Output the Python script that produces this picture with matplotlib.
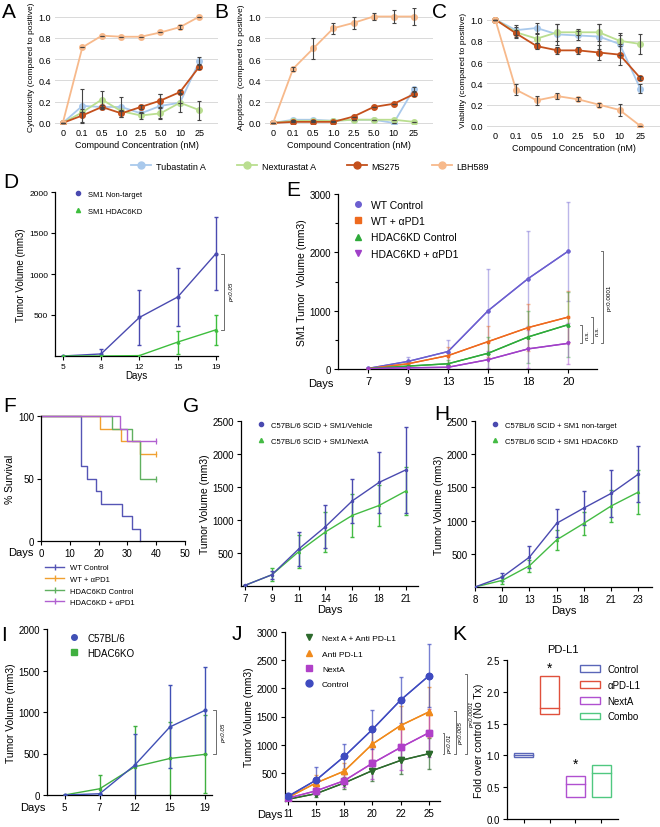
import matplotlib
matplotlib.use("Agg")
import matplotlib.pyplot as plt
from matplotlib.lines import Line2D
from matplotlib.patches import Rectangle
import numpy as np

plt.rcParams['font.family'] = ['Liberation Sans', 'DejaVu Sans']

# ---------------- data ----------------
conc_labels = ['0', '0.1', '0.5', '1.0', '2.5', '5.0', '10', '25']
drugs = ['Tubastatin A', 'Nexturastat A', 'MS275', 'LBH589']
drug_colors = ['#a9c9ec', '#bade90', '#c4501c', '#f7b98b']

cyto_tub = [0, 0.16, 0.15, 0.15, 0.09, 0.16, 0.19, 0.58]
cyto_nex = [0, 0.10, 0.22, 0.11, 0.07, 0.09, 0.19, 0.12]
cyto_ms = [0, 0.07, 0.15, 0.09, 0.15, 0.21, 0.29, 0.53]
cyto_lbh = [0, 0.71, 0.82, 0.81, 0.81, 0.85, 0.90, 1.0]
cyto_tub_err = [0, 0.16, 0, 0.09, 0, 0.11, 0, 0.04]
cyto_nex_err = [0, 0, 0.08, 0, 0.03, 0.05, 0.09, 0.09]
cyto_ms_err = [0, 0.06, 0.02, 0.03, 0.02, 0.06, 0.02, 0.02]
cyto_lbh_err = [0, 0, 0, 0, 0, 0, 0.02, 0]

apo_tub = [0, 0.03, 0.03, 0.02, 0.03, 0.03, 0.0, 0.32]
apo_nex = [0, 0.02, 0.02, 0.02, 0.03, 0.03, 0.03, 0.01]
apo_ms = [0, 0.01, 0.01, 0.01, 0.06, 0.15, 0.18, 0.27]
apo_lbh = [0, 0.51, 0.70, 0.89, 0.94, 1.0, 1.0, 1.0]
apo_tub_err = [0, 0, 0, 0, 0, 0, 0, 0.02]
apo_nex_err = [0, 0, 0, 0, 0, 0, 0, 0]
apo_ms_err = [0, 0, 0, 0, 0, 0, 0, 0.02]
apo_lbh_err = [0, 0.02, 0.10, 0.05, 0.06, 0.03, 0.06, 0.08]

via_tub = [1.0, 0.90, 0.92, 0.86, 0.85, 0.84, 0.77, 0.35]
via_nex = [1.0, 0.88, 0.82, 0.88, 0.88, 0.88, 0.80, 0.77]
via_ms = [1.0, 0.87, 0.75, 0.71, 0.71, 0.69, 0.67, 0.45]
via_lbh = [1.0, 0.34, 0.24, 0.28, 0.25, 0.20, 0.15, 0.0]
via_tub_err = [0, 0.05, 0.05, 0.10, 0.04, 0.12, 0.10, 0.04]
via_nex_err = [0, 0.05, 0.04, 0.08, 0.03, 0.08, 0.05, 0.09]
via_ms_err = [0, 0.03, 0.03, 0.03, 0.03, 0.07, 0.10, 0.02]
via_lbh_err = [0, 0.05, 0.04, 0.03, 0.02, 0.02, 0.06, 0.0]

d_days = ['5', '8', '12', '15', '19']
d_nt = [0, 25, 470, 720, 1250]
d_nt_err = [0, 60, 340, 350, 450]
d_kd = [0, 0, 5, 170, 320]
d_kd_err = [0, 0, 0, 140, 180]

e_days = ['7', '9', '13', '15', '18', '20']
e_wt = [10, 130, 300, 1000, 1550, 2020]
e_wt_err = [10, 80, 200, 720, 820, 850]
e_wtpd1 = [5, 90, 230, 470, 710, 890]
e_wtpd1_err = [5, 40, 150, 270, 400, 440]
e_kd = [5, 50, 90, 270, 550, 760]
e_kd_err = [5, 30, 60, 280, 450, 560]
e_kdpd1 = [5, 20, 30, 160, 345, 440]
e_kdpd1_err = [5, 10, 20, 150, 320, 350]

f_wt_t = [0, 14, 16, 19, 21, 28, 31.5, 34.5]
f_wt_s = [100, 60, 50, 40, 30, 20, 10, 0]
f_wtpd1_t = [0, 20.5, 27.7, 34.5, 40]
f_wtpd1_s = [100, 90, 80, 70, 70]
f_kd_t = [0, 24.7, 31.5, 34.5, 40]
f_kd_s = [100, 90, 80, 50, 50]
f_kdpd1_t = [0, 27.4, 29.8, 40]
f_kdpd1_s = [100, 90, 80, 80]

g_days = ['7', '9', '11', '14', '16', '18', '21']
g_veh = [10, 170, 560, 900, 1290, 1570, 1760]
g_veh_err = [0, 60, 260, 330, 330, 460, 650]
g_nexta = [10, 170, 520, 820, 1070, 1220, 1440]
g_nexta_err = [0, 100, 250, 300, 330, 310, 370]

h_days = ['8', '10', '13', '15', '18', '21', '23']
h_nt = [0, 150, 450, 960, 1190, 1410, 1700]
h_nt_err = [0, 60, 160, 210, 250, 350, 420]
h_kd = [0, 100, 320, 710, 960, 1220, 1430]
h_kd_err = [0, 60, 90, 150, 170, 240, 330]

i_days = ['5', '7', '12', '15', '19']
i_c57 = [0, 15, 360, 820, 1020]
i_c57_err = [0, 0, 370, 500, 520]
i_ko = [0, 75, 340, 440, 490]
i_ko_err = [0, 170, 490, 440, 470]

j_days = ['11', '15', '18', '20', '22', '25']
j_ctrl = [80, 370, 790, 1270, 1790, 2220]
j_ctrl_err = [60, 230, 220, 340, 410, 560]
j_apdl1 = [60, 320, 530, 1010, 1340, 1580]
j_apdl1_err = [40, 140, 150, 330, 350, 450]
j_nexta = [50, 180, 360, 670, 950, 1210]
j_nexta_err = [30, 60, 120, 280, 400, 430]
j_combo = [30, 130, 320, 540, 720, 840]
j_combo_err = [20, 60, 100, 190, 240, 280]

k_groups = ['Control', '\u03b1PD-L1', 'NextA', 'Combo']
k_low = [0.98, 1.65, 0.35, 0.35]
k_high = [1.03, 2.25, 0.67, 0.85]
k_mid = [1.01, 1.75, 0.55, 0.72]
k_colors = ['#5a66b8', '#e0503c', '#b050d0', '#50c880']

# ---------------- layout helpers ----------------
W, H = 660, 828
fig = plt.figure(figsize=(W / 100, H / 100), dpi=100)


def ax_px(l, t, r, b):
    return fig.add_axes([l / W, 1 - b / H, (r - l) / W, (b - t) / H])


def letter(x, y, s):
    fig.text(x / W, 1 - y / H, s, fontsize=15, va='center', ha='left')


def excel_style(ax, ylabel, labels):
    for s in ax.spines.values():
        s.set_visible(False)
    ax.yaxis.grid(True, color='#d9d9d9', lw=0.7)
    ax.set_axisbelow(True)
    ax.tick_params(length=0, labelsize=6.5, pad=3)
    ax.set_xticks(range(len(labels)))
    ax.set_xticklabels(labels)
    ax.set_ylim(-0.01, 1.08)
    ax.set_yticks(np.arange(0, 1.01, 0.2))
    ax.set_yticklabels(['%.1f' % v for v in np.arange(0, 1.01, 0.2)])
    ax.set_xlabel('Compound Concentration (nM)', fontsize=6.5, labelpad=2)
    ax.set_ylabel(ylabel, fontsize=6, labelpad=2)


def gp_style(ax, labelsize=6):
    ax.spines['top'].set_visible(False)
    ax.spines['right'].set_visible(False)
    ax.spines['left'].set_linewidth(0.9)
    ax.spines['bottom'].set_linewidth(0.9)
    ax.tick_params(direction='out', length=3, width=0.8, labelsize=labelsize, pad=2)


def series(ax, x, y, e, color, marker, ms=3, lw=1.0, ecolor=None, alpha=1.0):
    ax.errorbar(x, y, yerr=e, color=ecolor or color, lw=0, elinewidth=1.0,
                capsize=1.5, capthick=1.0, alpha=alpha, zorder=2)
    ax.plot(x, y, color=color, lw=lw, marker=marker, ms=ms, zorder=3)


def bracket(ax, x, y0, y1, text, dx=0.08, tx=0.15, fs=4.5, style='italic'):
    ax.plot([x - dx, x, x, x - dx], [y0, y0, y1, y1], color='#555555', lw=0.6,
            clip_on=False)
    ax.text(x + tx, (y0 + y1) / 2, text, rotation=90, fontsize=fs,
            style=style, ha='center', va='center', clip_on=False)


# ---------------- A, B, C ----------------
x8 = np.arange(8)
panels = [
    (55, 9, 218, 125, 'Cytotoxicity (compared to positive)',
     [cyto_tub, cyto_nex, cyto_ms, cyto_lbh],
     [cyto_tub_err, cyto_nex_err, cyto_ms_err, cyto_lbh_err], 'A', 0),
    (265, 9, 433, 125, 'Apoptosis  (compared to positive)',
     [apo_tub, apo_nex, apo_ms, apo_lbh],
     [apo_tub_err, apo_nex_err, apo_ms_err, apo_lbh_err], 'B', 212),
    (487, 12, 660, 128, 'Viability (compared to positive)',
     [via_tub, via_nex, via_ms, via_lbh],
     [via_tub_err, via_nex_err, via_ms_err, via_lbh_err], 'C', 430),
]
for l, t, r, b, ylab, ys, es, lab, lx in panels:
    ax = ax_px(l, t, r, b)
    excel_style(ax, ylab, conc_labels)
    ax.set_xlim(-0.4, 7.95)
    for y, e, c in zip(ys, es, drug_colors):
        ax.plot(x8, y, color=c, lw=1.3, marker='o', ms=4, zorder=3)
    for y, e in zip(ys, es):
        ax.errorbar(x8, y, yerr=e, fmt='none', ecolor='#444444', elinewidth=0.8,
                    capsize=1.5, capthick=0.8, zorder=4)
    letter(lx + 2, 12, lab)

handles = [Line2D([], [], color=c, marker='o', ms=5, lw=1.3) for c in drug_colors]
fig.legend(handles, drugs, loc='center', bbox_to_anchor=(310 / W, 1 - 167 / H),
           ncol=4, frameon=False, fontsize=6.5, handlelength=2.2,
           columnspacing=3.5, handletextpad=0.5)

# ---------------- D ----------------
ax = ax_px(55, 193, 218, 357)
gp_style(ax)
xd = np.arange(len(d_days))
series(ax, xd, d_nt, d_nt_err, '#4a4ab0', 'o', ms=2)
series(ax, xd, d_kd, d_kd_err, '#3dbe3d', '^', ms=2)
ax.set_xlim(-0.2, 4.05)
ax.set_ylim(0, 2000)
ax.set_yticks([500, 1000, 1500, 2000])
ax.set_xticks(xd)
ax.set_xticklabels(d_days)
ax.set_xlabel('Days', fontsize=7, labelpad=0)
ax.set_ylabel('Tumor Volume (mm3)', fontsize=7, labelpad=2)
ax.legend([Line2D([], [], color='#4a4ab0', marker='o', ms=3, lw=0),
           Line2D([], [], color='#3dbe3d', marker='^', ms=3, lw=0)],
          ['SM1 Non-target', 'SM1 HDAC6KD'], loc='upper left',
          bbox_to_anchor=(0.05, 1.05), frameon=False, fontsize=5.5,
          labelspacing=1.2, handletextpad=0.3)
bracket(ax, 4.2, 320, 1250, 'p<0.05', tx=0.2)
letter(3, 183, 'D')

# ---------------- E ----------------
ax = ax_px(338, 195, 597, 370)
gp_style(ax, 7)
xe = np.arange(len(e_days))
e_cols = ['#6c5fd0', '#ee6a1e', '#2eaa3a', '#a040c8']
e_marks = ['o', 's', '^', 'v']
for y, e, c, m in zip([e_wt, e_wtpd1, e_kd, e_kdpd1],
                      [e_wt_err, e_wtpd1_err, e_kd_err, e_kdpd1_err], e_cols, e_marks):
    series(ax, xe, y, e, c, m, ms=2, ecolor=c, alpha=0.45)
    ax.plot(xe, y, color=c, lw=1.0, marker=m, ms=2, zorder=3)
ax.set_xlim(-0.75, 5.72)
ax.set_ylim(0, 3000)
ax.set_yticks([0, 1000, 2000, 3000])
ax.set_yticks([500, 1500, 2500], minor=True)
ax.tick_params(which='minor', direction='out', length=2, width=0.8)
ax.set_xticks(xe)
ax.set_xticklabels(e_days, fontsize=8)
ax.text(-0.85, -160, 'Days', fontsize=8, ha='right', va='top')
ax.set_ylabel('SM1 Tumor  Volume (mm3)', fontsize=7.5, labelpad=2)
ax.legend([Line2D([], [], color=c, marker=m, ms=4, lw=0) for c, m in zip(e_cols, e_marks)],
          ['WT Control', 'WT + \u03b1PD1', 'HDAC6KD Control', 'HDAC6KD + \u03b1PD1'],
          loc='upper left', bbox_to_anchor=(0.0, 1.02), frameon=False, fontsize=7.5,
          labelspacing=0.6, handletextpad=0.3)
bracket(ax, 5.35, 440, 760, 'n.s.', dx=0.06, tx=0.12)
bracket(ax, 5.62, 440, 890, 'n.s.', dx=0.06, tx=0.12)
bracket(ax, 5.88, 440, 2030, 'p<0.0001', dx=0.06, tx=0.14, style='normal')
letter(286, 190, 'E')

# ---------------- F ----------------
ax = ax_px(41, 417, 185, 542)
gp_style(ax, 7)
f_cols = ['#5555b5', '#f0a030', '#60b060', '#b060d0']
f_names = ['WT Control', 'WT + \u03b1PD1', 'HDAC6KD Control', 'HDAC6KD + \u03b1PD1']
for t, s, c in zip([f_wt_t, f_wtpd1_t, f_kd_t, f_kdpd1_t],
                   [f_wt_s, f_wtpd1_s, f_kd_s, f_kdpd1_s], f_cols):
    ax.step(t, s, where='post', color=c, lw=1.0, clip_on=False)
    if s[-1] > 0:
        ax.plot([t[-1]], [s[-1]], marker='|', color=c, ms=4, mew=0.9)
ax.set_xlim(0, 50)
ax.set_ylim(0, 100)
ax.set_xticks(range(0, 51, 10))
ax.set_yticks([0, 50, 100])
ax.text(-2.5, -5, 'Days', fontsize=8, ha='right', va='top')
ax.set_ylabel('% Survival', fontsize=7.5, labelpad=2)
ax.legend([Line2D([], [], color=c, lw=1.0, marker='|', ms=4) for c in f_cols], f_names,
          loc='upper left', bbox_to_anchor=(-0.02, -0.13), frameon=False,
          fontsize=5.5, handlelength=2.5, labelspacing=0.55)
letter(3, 407, 'F')

# ---------------- G ----------------
ax = ax_px(241, 422, 418, 587)
gp_style(ax, 7)
xg = np.arange(len(g_days))
series(ax, xg, g_nexta, g_nexta_err, '#44bb44', '^', ms=1.5)
series(ax, xg, g_veh, g_veh_err, '#4a4ab0', 'o', ms=1.5)
ax.set_xlim(-0.15, 6.45)
ax.set_ylim(0, 2500)
ax.set_yticks([500, 1000, 1500, 2000, 2500])
ax.set_xticks(xg)
ax.set_xticklabels(g_days)
ax.set_xlabel('Days', fontsize=8, labelpad=1)
ax.set_ylabel('Tumor Volume (mm3)', fontsize=7.5, labelpad=2)
ax.legend([Line2D([], [], color='#4a4ab0', marker='o', ms=3, lw=0),
           Line2D([], [], color='#44bb44', marker='^', ms=3, lw=0)],
          ['C57BL/6 SCID + SM1/Vehicle', 'C57BL/6 SCID + SM1/NextA'], loc='upper left',
          bbox_to_anchor=(0.03, 1.04), frameon=False, fontsize=5.5,
          labelspacing=1.2, handletextpad=0.3)
letter(183, 407, 'G')

# ---------------- H ----------------
ax = ax_px(475, 422, 652, 588)
gp_style(ax, 7)
xh = np.arange(len(h_days))
series(ax, xh, h_kd, h_kd_err, '#44bb44', '^', ms=1.5)
series(ax, xh, h_nt, h_nt_err, '#4a4ab0', 'o', ms=1.5)
ax.set_xlim(0.0, 6.5)
ax.set_ylim(0, 2500)
ax.set_yticks([500, 1000, 1500, 2000, 2500])
ax.set_xticks(xh)
ax.set_xticklabels(h_days)
ax.set_xlabel('Days', fontsize=8, labelpad=1)
ax.set_ylabel('Tumor Volume (mm3)', fontsize=7.5, labelpad=2)
ax.legend([Line2D([], [], color='#4a4ab0', marker='o', ms=3, lw=0),
           Line2D([], [], color='#44bb44', marker='^', ms=3, lw=0)],
          ['C57BL/6 SCID + SM1 non-target', 'C57BL/6 SCID + SM1 HDAC6KD'], loc='upper left',
          bbox_to_anchor=(0.03, 1.04), frameon=False, fontsize=5.5,
          labelspacing=1.2, handletextpad=0.3)
letter(434, 415, 'H')

# ---------------- I ----------------
ax = ax_px(47, 630, 212, 796)
gp_style(ax, 7)
xi = np.arange(len(i_days))
series(ax, xi, i_ko, i_ko_err, '#40b040', 's', ms=2)
series(ax, xi, i_c57, i_c57_err, '#4050b5', 'o', ms=2)
ax.set_xlim(-0.5, 4.2)
ax.set_ylim(0, 2000)
ax.set_yticks([0, 500, 1000, 1500, 2000])
ax.set_xticks(xi)
ax.set_xticklabels(i_days)
ax.text(-0.55, -90, 'Days', fontsize=8, ha='right', va='top')
ax.set_ylabel('Tumor Volume (mm3)', fontsize=7.5, labelpad=2)
ax.legend([Line2D([], [], color='#4050b5', marker='o', ms=4, lw=0),
           Line2D([], [], color='#40b040', marker='s', ms=4, lw=0)],
          ['C57BL/6', 'HDAC6KO'], loc='upper left',
          bbox_to_anchor=(0.05, 1.03), frameon=False, fontsize=7,
          labelspacing=0.5, handletextpad=0.4)
bracket(ax, 4.3, 490, 1020, 'p<0.05', tx=0.22)
letter(1, 636, 'I')

# ---------------- J ----------------
ax = ax_px(285, 633, 440, 802)
gp_style(ax, 7)
xj = np.arange(len(j_days))
j_cols = ['#2d6a2d', '#f08a1c', '#b040c8', '#3f4bc0']
j_marks = ['v', '^', 's', 'o']
j_names = ['Next A + Anti PD-L1', 'Anti PD-L1', 'NextA', 'Control']
for y, e, c, m in zip([j_combo, j_apdl1, j_nexta, j_ctrl],
                      [j_combo_err, j_apdl1_err, j_nexta_err, j_ctrl_err], j_cols, j_marks):
    series(ax, xj, y, e, c, m, ms=4.5, ecolor=c, alpha=0.7)
    ax.plot(xj, y, color=c, lw=1.0, marker=m, ms=4.5, zorder=3)
ax.set_xlim(-0.1, 5.4)
ax.set_ylim(0, 3000)
ax.set_yticks([500, 1000, 1500, 2000, 2500, 3000])
ax.set_xticks(xj)
ax.set_xticklabels(j_days)
ax.text(-0.2, -150, 'Days', fontsize=8, ha='right', va='top')
ax.set_ylabel('Tumor Volume (mm3)', fontsize=7.5, labelpad=2)
ax.legend([Line2D([], [], color=c, marker=m, ms=5, lw=0) for c, m in zip(j_cols, j_marks)],
          j_names, loc='upper left', bbox_to_anchor=(0.05, 1.03), frameon=False,
          fontsize=6, labelspacing=0.9, handletextpad=0.6)
bracket(ax, 5.55, 840, 1210, 'p<0.01', dx=0.06, tx=0.18)
bracket(ax, 5.95, 840, 1600, 'p<0.005', dx=0.06, tx=0.18)
bracket(ax, 6.35, 840, 2260, 'p<0.0001', dx=0.06, tx=0.18)
letter(232, 635, 'J')

# ---------------- K ----------------
ax = ax_px(507, 661, 618, 820)
gp_style(ax, 7)
xk = np.arange(len(k_groups))
for i in xk:
    ax.add_patch(Rectangle((i - 0.37, k_low[i]), 0.74, k_high[i] - k_low[i],
                           fill=False, ec=k_colors[i], lw=1.0))
    ax.plot([i - 0.37, i + 0.37], [k_mid[i], k_mid[i]], color=k_colors[i], lw=1.0)
ax.text(1, 2.38, '*', fontsize=10, ha='center', va='center')
ax.text(2, 0.87, '*', fontsize=10, ha='center', va='center')
ax.set_xlim(-0.66, 3.66)
ax.set_ylim(0, 2.5)
ax.set_yticks(np.arange(0, 2.51, 0.5))
ax.set_yticklabels(['%.1f' % v for v in np.arange(0, 2.51, 0.5)])
ax.set_xticks(xk)
ax.set_xticklabels([])
ax.set_ylabel('Fold over control (No Tx)', fontsize=7.5, labelpad=2)
ax.set_title('PD-L1', fontsize=8, pad=6)
ax.legend([Rectangle((0, 0), 1, 1, fill=False, ec=c, lw=1.0) for c in k_colors],
          k_groups, loc='upper left', bbox_to_anchor=(0.58, 1.03), frameon=False,
          fontsize=7, labelspacing=0.6, handlelength=2.0, handletextpad=0.8)
letter(452, 635, 'K')

fig.savefig('out.png', dpi=100)
